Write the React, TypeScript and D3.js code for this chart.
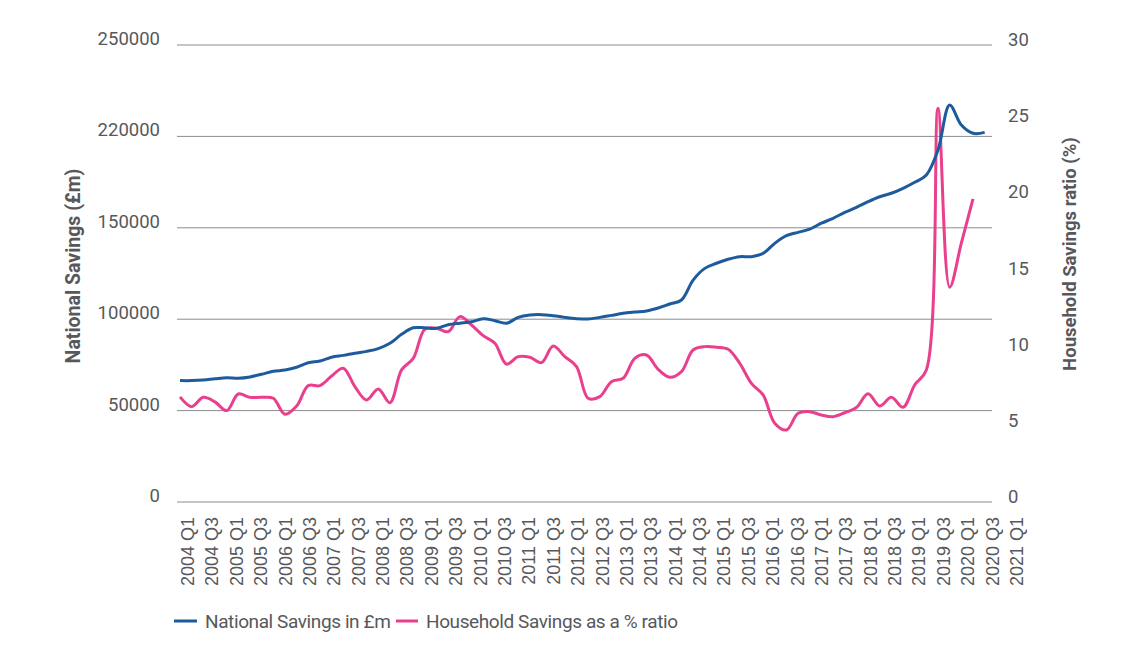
import React from 'react';
import * as d3 from 'd3';

// quarterly values, 2004 Q1 onward
const nationalSavings = [
  66400, 66400, 66700, 67400, 68000, 67700, 68400, 69900, 71500, 72200,
  73700, 76200, 77100, 79200, 80200, 81400, 82400, 83900, 86800, 91700,
  95300, 95300, 95000, 97000, 97800, 98600, 100300, 99200, 97800, 101000,
  102300, 102500, 101900, 101000, 100300, 100100, 101000, 102100, 103200, 103900,
  104500, 106100, 108300, 110500, 121400, 127800, 130600, 132800, 134200, 134200,
  136000, 141500, 145700, 147500, 149300, 152500, 155200, 158400, 161200, 164300,
  167000, 168900, 171600, 174900, 178900, 192600, 217200, 206200, 201700, 202200,
];

const householdRatio = [
  6.9, 6.26, 6.87, 6.57, 6.0, 7.09, 6.87, 6.87, 6.81, 5.76,
  6.3, 7.64, 7.64, 8.27, 8.78, 7.57, 6.7, 7.42, 6.52, 8.67,
  9.43, 11.34, 11.4, 11.18, 12.17, 11.62, 10.92, 10.42, 9.05, 9.54,
  9.5, 9.15, 10.24, 9.54, 8.89, 6.81, 6.92, 7.9, 8.12, 9.43,
  9.65, 8.71, 8.19, 8.56, 9.98, 10.2, 10.16, 10.03, 9.1, 7.79,
  7.03, 5.17, 4.73, 5.82, 5.93, 5.71, 5.6, 5.86, 6.2, 7.1,
  6.3, 6.87, 6.22, 7.68, 8.67, 25.85, 14.1, 16.99, 19.9,
];

const xLabels = [
  '2004 Q1', '2004 Q3', '2005 Q1', '2005 Q3', '2006 Q1', '2006 Q3', '2007 Q1',
  '2007 Q3', '2008 Q1', '2008 Q3', '2009 Q1', '2009 Q3', '2010 Q1', '2010 Q3',
  '2011 Q1', '2011 Q3', '2012 Q1', '2012 Q3', '2013 Q1', '2013 Q3', '2014 Q1',
  '2014 Q3', '2015 Q1', '2015 Q3', '2016 Q1', '2016 Q3', '2017 Q1', '2017 Q3',
  '2018 Q1', '2018 Q3', '2019 Q1', '2019 Q3', '2020 Q1', '2020 Q3', '2021 Q1',
];

const leftTicks = [0, 50000, 100000, 150000, 200000, 250000];
const leftTickLabels = ['0', '50000', '100000', '150000', '220000', '250000'];
const rightTicks = [0, 5, 10, 15, 20, 25, 30];

const BLUE = '#1d5b9c';
const PINK = '#ea3f8d';
const TEXT = '#57585b';

const App = () => {
  const width = 1139;
  const height = 658;
  const plot = { left: 177, right: 992, top: 45, bottom: 502 };

  const x = d3.scaleLinear().domain([0, 68]).range([180, 973]);
  const xLab = d3.scalePoint().domain(xLabels).range([188, 1017]);
  const yL = d3.scaleLinear().domain([0, 250000]).range([plot.bottom, plot.top]);
  const yR = d3.scaleLinear().domain([0, 30]).range([plot.bottom, plot.top]);

  const blueLine = d3
    .line<number>()
    .x((_, i) => x(i))
    .y(d => yL(d))
    .curve(d3.curveCatmullRom);

  const pinkLine = d3
    .line<number>()
    .x((_, i) => x(i))
    .y(d => yR(d))
    .curve(d3.curveCatmullRom);

  const font = 'Roboto, "DejaVu Sans", sans-serif';

  return (
    <svg
      width={width}
      height={height}
      style={{ position: 'absolute', left: 0, top: 0, background: '#fff' }}
    >
      {leftTicks.map((t, i) => (
        <g key={t}>
          <line
            x1={plot.left}
            x2={plot.right}
            y1={yL(t)}
            y2={yL(t)}
            stroke="#8c8c8c"
            strokeWidth={1}
          />
          <text
            x={160}
            y={yL(t)}
            textAnchor="end"
            fontFamily={font}
            fontSize={18.5}
            fill={TEXT}
          >
            {leftTickLabels[i]}
          </text>
        </g>
      ))}

      {rightTicks.map(t => (
        <text
          key={t}
          x={1008}
          y={yR(t) + 1}
          textAnchor="start"
          fontFamily={font}
          fontSize={18.5}
          fill={TEXT}
        >
          {t}
        </text>
      ))}

      {xLabels.map(l => (
        <text
          key={l}
          transform={`translate(${xLab(l)}, 517) rotate(-90)`}
          textAnchor="end"
          dominantBaseline="central"
          fontFamily='"Liberation Sans", Arial, sans-serif'
          fontSize={18}
          fill={TEXT}
        >
          {l}
        </text>
      ))}

      <text
        transform="translate(73, 266) rotate(-90)"
        textAnchor="middle"
        dominantBaseline="central"
        fontFamily={font}
        fontWeight="bold"
        fontSize={19.5}
        fill={TEXT}
      >
        National Savings (£m)
      </text>
      <text
        transform="translate(1070, 254) rotate(-90)"
        textAnchor="middle"
        dominantBaseline="central"
        fontFamily={font}
        fontWeight="bold"
        fontSize={18.5}
        fill={TEXT}
      >
        Household Savings ratio (%)
      </text>

      <path d={pinkLine(householdRatio) ?? ''} fill="none" stroke={PINK} strokeWidth={3} />
      <path d={blueLine(nationalSavings) ?? ''} fill="none" stroke={BLUE} strokeWidth={3} />

      <g fontFamily={font} fontSize={19} fill={TEXT} letterSpacing={-0.4}>
        <line x1={174} x2={197} y1={621} y2={621} stroke={BLUE} strokeWidth={3} />
        <text x={205} y={628}>National Savings in £m</text>
        <line x1={396} x2={418} y1={621} y2={621} stroke={PINK} strokeWidth={3} />
        <text x={426} y={628}>Household Savings as a % ratio</text>
      </g>
    </svg>
  );
};

export default App;
